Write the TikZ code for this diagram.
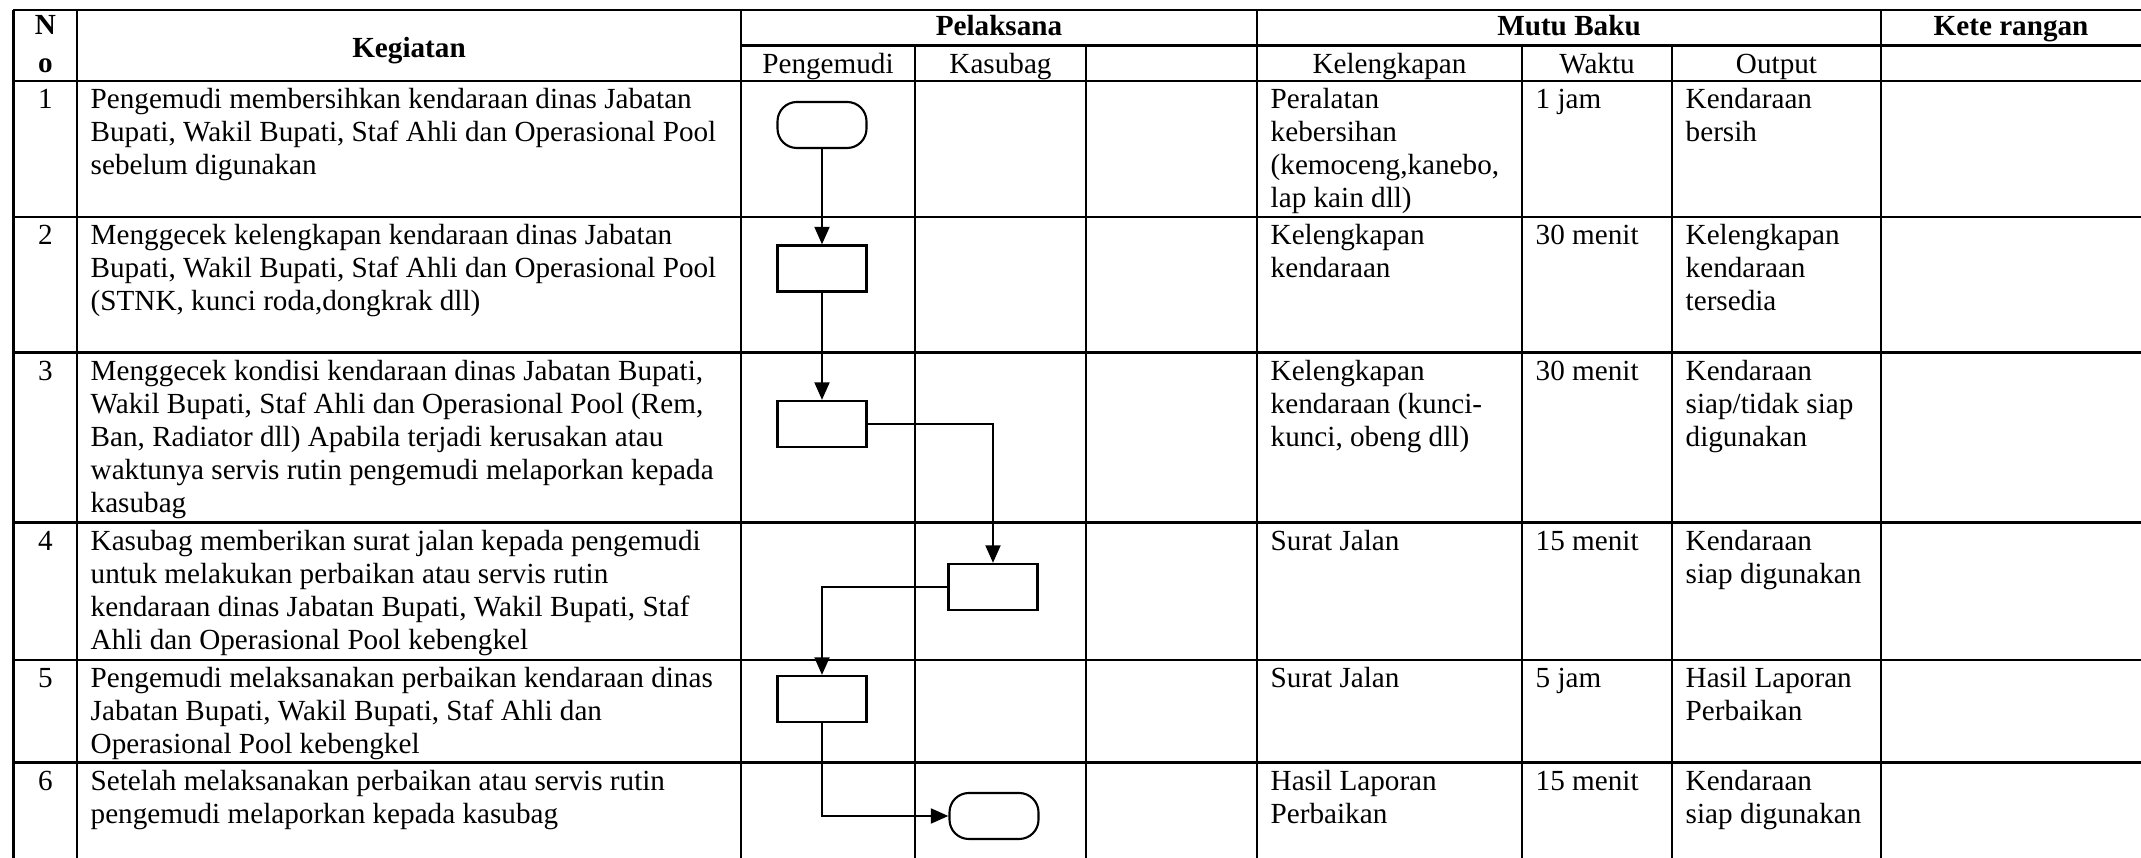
\documentclass[tikz,border=0pt]{standalone}
\usepackage{fontspec}
\setmainfont{Liberation Serif}
\usetikzlibrary{arrows.meta, positioning}

\begin{document}
\begin{tikzpicture}[
    x=1cm, y=1cm,
    >={Triangle[length=5pt, width=4.2pt]},
    every node/.style={font=\fontsize{8.3}{9.4}\selectfont},
    tline/.style ={line width=0.8pt},
    txt/.style   ={anchor=north west, align=left, inner sep=0pt},
    nr/.style    ={anchor=north, inner sep=0pt},
    hdr/.style   ={anchor=base, inner sep=0pt,
                   font=\fontsize{8.3}{9.4}\selectfont\bfseries},
    subhdr/.style={anchor=base, inner sep=0pt},
    box/.style   ={draw, line width=0.6pt, minimum width=8.9mm,
                   minimum height=4.6mm, inner sep=0pt},
    term/.style  ={box, rounded corners=5.5pt},
    flow/.style  ={->, line width=0.75pt},
]
\useasboundingbox (0,0) rectangle (21.41,-8.58);

% table rules
\draw[tline] (0.135,-0.10) -- (21.41,-0.10);
\draw[tline] (7.41,-0.455) -- (21.41,-0.455);
\draw[tline] (0.135,-0.81) -- (21.41,-0.81);
\draw[tline] (0.135,-2.17) -- (21.41,-2.17);
\draw[tline] (0.135,-3.527) -- (21.41,-3.527);
\draw[tline] (0.135,-5.227) -- (21.41,-5.227);
\draw[tline] (0.135,-6.60) -- (21.41,-6.60);
\draw[tline] (0.135,-7.627) -- (21.41,-7.627);
\draw[tline] (0.135,-0.10) -- (0.135,-8.58);
\draw[tline] (0.77,-0.10) -- (0.77,-8.58);
\draw[tline] (7.41,-0.10) -- (7.41,-8.58);
\draw[tline] (12.57,-0.10) -- (12.57,-8.58);
\draw[tline] (18.81,-0.10) -- (18.81,-8.58);
\draw[tline] (9.15,-0.455) -- (9.15,-8.58);
\draw[tline] (10.86,-0.455) -- (10.86,-8.58);
\draw[tline] (15.22,-0.455) -- (15.22,-8.58);
\draw[tline] (16.72,-0.455) -- (16.72,-8.58);

% header
\node[hdr] (hno)  at (0.455,-0.35)  {N};
\node[hdr] (hno2) at (0.455,-0.73)  {o};
\node[hdr] (hkeg) at (4.09,-0.575)  {Kegiatan};
\node[hdr] (hpel) at (9.99,-0.36)   {Pelaksana};
\node[hdr] (hmut) at (15.69,-0.36)  {Mutu Baku};
\node[hdr] (hket) at (20.11,-0.36)  {Kete rangan};
\node[subhdr] (hpeng) at (8.28,-0.74)   {Pengemudi};
\node[subhdr] (hkas)  at (10.005,-0.74) {Kasubag};
\node[subhdr] (hkel)  at (13.895,-0.74) {Kelengkapan};
\node[subhdr] (hwak)  at (15.97,-0.74)  {Waktu};
\node[subhdr] (hout)  at (17.765,-0.74) {Output};

% row 1
\node[nr]  (n1) at (0.455,-0.847) {\strut 1};
\node[txt] (k1) at (0.90,-0.847)
    {\strut Pengemudi membersihkan kendaraan dinas Jabatan\\
     Bupati, Wakil Bupati, Staf Ahli dan Operasional Pool\\
     sebelum digunakan};
\node[txt] (l1) at (12.70,-0.847) {\strut Peralatan\\ kebersihan\\
     (kemoceng,kanebo,\\ lap kain dll)};
\node[txt] (w1) at (15.35,-0.847) {\strut 1 jam};
\node[txt] (o1) at (16.85,-0.847) {\strut Kendaraan\\ bersih};

% row 2
\node[nr]  (n2) at (0.455,-2.207) {\strut 2};
\node[txt] (k2) at (0.90,-2.207)
    {\strut Menggecek kelengkapan kendaraan dinas Jabatan\\
     Bupati, Wakil Bupati, Staf Ahli dan Operasional Pool\\
     (STNK, kunci roda,dongkrak dll)};
\node[txt] (l2) at (12.70,-2.207) {\strut Kelengkapan\\ kendaraan};
\node[txt] (w2) at (15.35,-2.207) {\strut 30 menit};
\node[txt] (o2) at (16.85,-2.207) {\strut Kelengkapan\\ kendaraan\\ tersedia};

% row 3
\node[nr]  (n3) at (0.455,-3.564) {\strut 3};
\node[txt] (k3) at (0.90,-3.564)
    {\strut Menggecek kondisi kendaraan dinas Jabatan Bupati,\\
     Wakil Bupati, Staf Ahli dan Operasional Pool (Rem,\\
     Ban, Radiator dll) Apabila terjadi kerusakan atau\\
     waktunya servis rutin pengemudi melaporkan kepada\\
     kasubag};
\node[txt] (l3) at (12.70,-3.564) {\strut Kelengkapan\\ kendaraan (kunci-\\
     kunci, obeng dll)};
\node[txt] (w3) at (15.35,-3.564) {\strut 30 menit};
\node[txt] (o3) at (16.85,-3.564) {\strut Kendaraan\\ siap/tidak siap\\ digunakan};

% row 4
\node[nr]  (n4) at (0.455,-5.264) {\strut 4};
\node[txt] (k4) at (0.90,-5.264)
    {\strut Kasubag memberikan surat jalan kepada pengemudi\\
     untuk melakukan perbaikan atau servis rutin\\
     kendaraan dinas Jabatan Bupati, Wakil Bupati, Staf\\
     Ahli dan Operasional Pool kebengkel};
\node[txt] (l4) at (12.70,-5.264) {\strut Surat Jalan};
\node[txt] (w4) at (15.35,-5.264) {\strut 15 menit};
\node[txt] (o4) at (16.85,-5.264) {\strut Kendaraan\\ siap digunakan};

% row 5
\node[nr]  (n5) at (0.455,-6.637) {\strut 5};
\node[txt] (k5) at (0.90,-6.637)
    {\strut Pengemudi melaksanakan perbaikan kendaraan dinas\\
     Jabatan Bupati, Wakil Bupati, Staf Ahli dan\\
     Operasional Pool kebengkel};
\node[txt] (l5) at (12.70,-6.637) {\strut Surat Jalan};
\node[txt] (w5) at (15.35,-6.637) {\strut 5 jam};
\node[txt] (o5) at (16.85,-6.637) {\strut Hasil Laporan\\ Perbaikan};

% row 6
\node[nr]  (n6) at (0.455,-7.664) {\strut 6};
\node[txt] (k6) at (0.90,-7.664)
    {\strut Setelah melaksanakan perbaikan atau servis rutin\\
     pengemudi melaporkan kepada kasubag};
\node[txt] (l6) at (12.70,-7.664) {\strut Hasil Laporan\\ Perbaikan};
\node[txt] (w6) at (15.35,-7.664) {\strut 15 menit};
\node[txt] (o6) at (16.85,-7.664) {\strut Kendaraan\\ siap digunakan};

% flow
\node[term] (mulai)  at (8.22,-1.25)  {};
\node[box]  (cek)    at (8.22,-2.685) {};
\node[box]  (kondisi) at (8.22,-4.24) {};
\node[box]  (surat)  at (9.93,-5.87)  {};
\node[box]  (servis) at (8.22,-6.99)  {};
\node[term] (selesai) at (9.94,-8.16) {};

\draw[flow] (mulai)  -- (cek);
\draw[flow] (cek)    -- (kondisi);
\draw[flow] (kondisi.east) -| (surat.north);
\draw[flow] (surat.west)   -| (servis.north);
\draw[flow] (servis.south) |- (selesai.west);
\end{tikzpicture}
\end{document}
